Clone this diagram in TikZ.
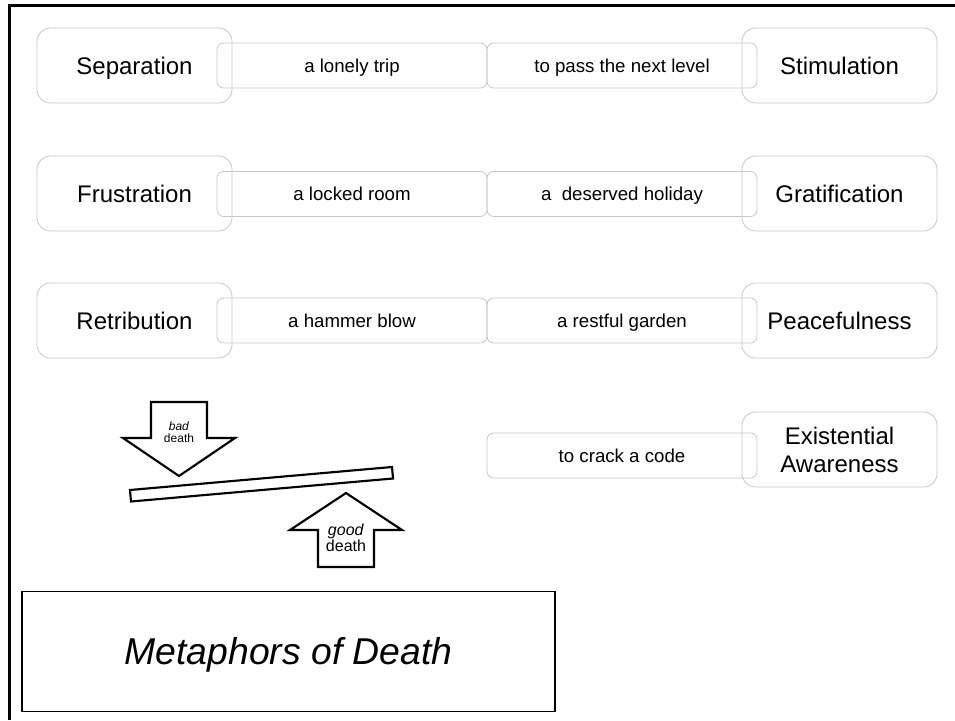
\documentclass[tikz,border=0pt]{standalone}
\usepackage{fontspec}
\setmainfont{Liberation Sans}

\begin{document}
\begin{tikzpicture}[x=0.75pt,y=-0.75pt,
  state/.style={draw=black!22,line width=0.6pt,rounded corners=10pt,minimum width=146.25pt,minimum height=56.25pt,inner sep=0pt,text height=13pt,text depth=0pt,font=\fontsize{18}{21}\selectfont},
  meta/.style={draw=black!22,line width=0.6pt,rounded corners=5pt,minimum width=202.5pt,minimum height=33.75pt,inner sep=0pt,text height=10pt,text depth=0pt,font=\fontsize{14}{17}\selectfont},
  block/.style={draw=black,line width=1.6pt,line join=miter,fill=white}]
\useasboundingbox (0,0) rectangle (955,720);
\draw[line width=2.25pt] (9,720) -- (9,6) -- (955,6);

\node[state] (s) at (134.5,65.5) {Separation};
\node[meta] (sA) at (352,65.5) {a lonely trip};
\node[meta] (tA) at (622,65.5) {to pass the next level};
\node[state] (t) at (839.5,65.5) {Stimulation};

\node[state] (f) at (134.5,193.5) {Frustration};
\node[meta] (fA) at (352,194) {a locked room};
\node[meta] (gA) at (622,194) {a\ \ deserved holiday};
\node[state] (g) at (839.5,193.5) {Gratification};

\node[state] (r) at (134.5,320.5) {Retribution};
\node[meta] (rA) at (352,320.5) {a hammer blow};
\node[meta] (pA) at (622,320.5) {a restful garden};
\node[state] (p) at (839.5,320.5) {Peacefulness};

\node[meta] (eA) at (622,455.5) {to crack a code};
\node[state,text height={},text depth={},align=center] (e) at (839.5,449.5) {Existential\\Awareness};

\draw[block] (151,402) -- (207,402) -- (207,438) -- (235,438) -- (179,476) -- (123,438) -- (151,438) -- cycle;
\node[align=center,inner sep=0pt,font=\fontsize{9}{9}\selectfont] (bad) at (179,432) {\textit{bad}\\death};

\draw[block] (130,490) -- (392,467) -- (393,478.5) -- (131,501.5) -- cycle;

\draw[block] (318,567) -- (374,567) -- (374,530) -- (402,530) -- (346,493) -- (290,530) -- (318,530) -- cycle;
\node[align=center,inner sep=0pt,font=\fontsize{12}{12}\selectfont] (good) at (346,538) {\textit{good}\\death};

\node[draw=black,line width=1pt,minimum width=399.75pt,minimum height=90pt,text height=20pt,text depth=0pt,font=\fontsize{28}{30}\selectfont\itshape] (title) at (288.5,651.5) {Metaphors of Death};
\end{tikzpicture}
\end{document}
